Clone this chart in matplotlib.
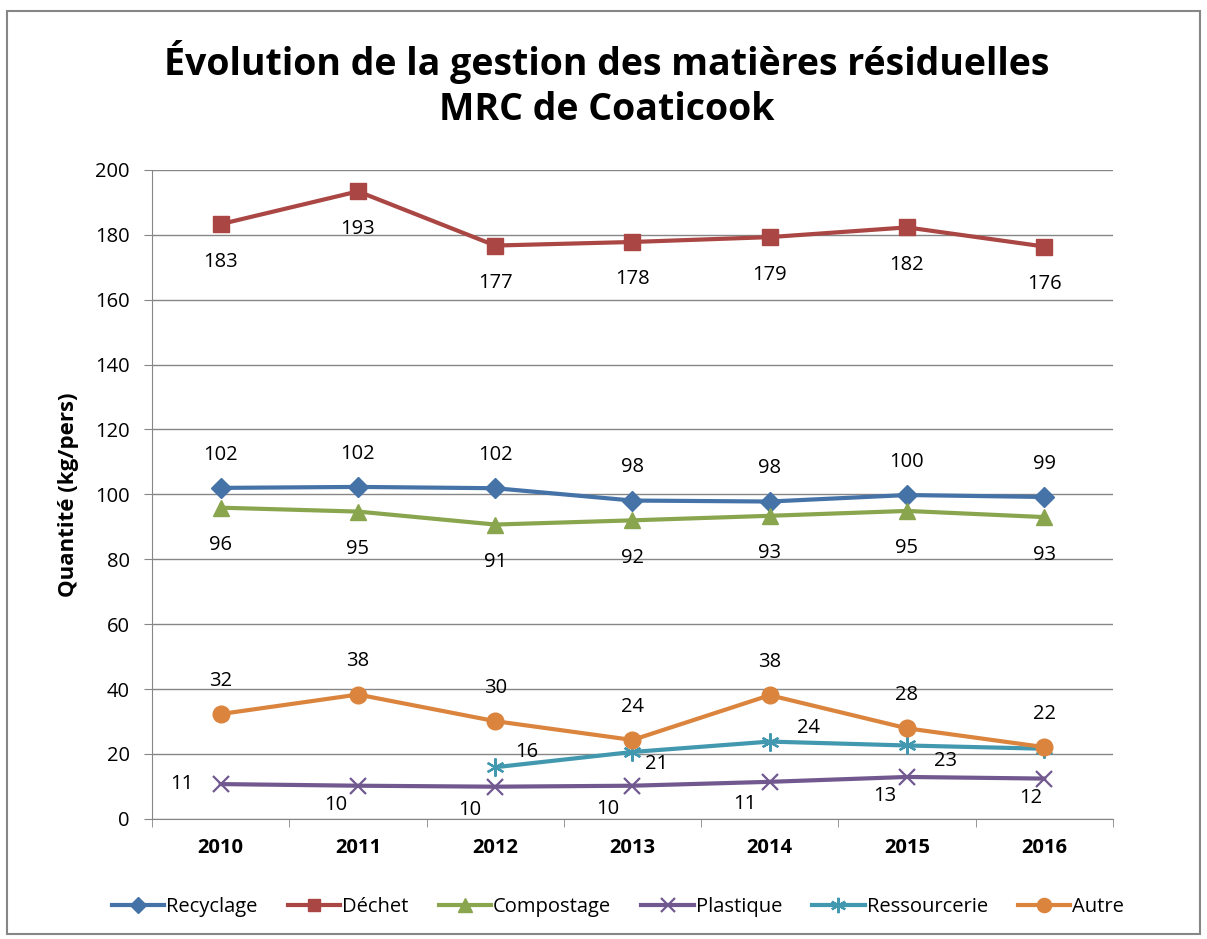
import numpy as np
import matplotlib.pyplot as plt
from matplotlib.patches import Rectangle

plt.rcParams['font.family'] = ['Open Sans', 'DejaVu Sans']

years = ['2010', '2011', '2012', '2013', '2014', '2015', '2016']
recyclage = [102, 102.3, 101.9, 98.1, 97.8, 99.8, 99.2]
dechet = [183.3, 193.4, 176.7, 177.8, 179.3, 182.3, 176.4]
compostage = [95.9, 94.7, 90.7, 92.0, 93.4, 94.9, 93.0]
plastique = [10.7, 10.2, 9.9, 10.2, 11.4, 12.9, 12.4]
ressourcerie = [np.nan, np.nan, 15.9, 20.6, 23.8, 22.6, 21.6]
autre = [32.3, 38.3, 30.1, 24.3, 38.1, 27.9, 22.1]

# name, values, color, marker, size, label offset (pts)
series = [
    ('Recyclage', recyclage, '#4572A7', 'D', 10, [(0, 24)] * 7),
    ('Déchet', dechet, '#AA4643', 's', 11, [(0, -27)] * 7),
    ('Compostage', compostage, '#89A54E', '^', 12, [(0, -27)] * 7),
    ('Plastique', plastique, '#71588F', 'x', 12,
     [(-28, 0), (-16, -14), (-18, -17), (-18, -17), (-18, -16), (-16, -14), (-10, -14)]),
    ('Ressourcerie', ressourcerie, '#4198AF', (6, 2, 0), 13,
     [(0, 0), (0, 0), (23, 11), (17, -9), (28, 10), (28, -11), (0, 0)]),
    ('Autre', autre, '#DB843D', 'o', 12, [(0, 24)] * 7),
]
show_label = {'Ressourcerie': [False, False, True, True, True, True, False]}

fig = plt.figure(figsize=(12.07, 9.39), dpi=100)
ax = fig.add_axes([0.126, 0.128, 0.796, 0.691])

x = np.arange(len(years))
for name, vals, color, marker, ms, offs in series:
    mew = 1.6 if marker in ('x', (6, 2, 0)) else 1
    ax.plot(x, vals, color=color, linewidth=3, marker=marker, markersize=ms,
            markeredgewidth=mew, markeredgecolor=color, label=name, zorder=3)
    flags = show_label.get(name, [True] * 7)
    for i, v in enumerate(vals):
        if np.isnan(v) or not flags[i]:
            continue
        ax.annotate('%d' % round(v), (x[i], v), xytext=offs[i], textcoords='offset points',
                    ha='center', va='center', fontsize=14.5, color='black', zorder=4)

ax.set_xlim(-0.5, len(years) - 0.5)
ax.set_ylim(0, 200)
ax.set_yticks(np.arange(0, 201, 20))
ax.set_xticks(x)
ax.set_xticklabels(years, fontweight='bold', fontsize=14.5)
ax.set_xticks(np.arange(-0.5, len(years)), minor=True)
ax.tick_params(axis='x', which='major', length=0, pad=14)
ax.tick_params(axis='x', which='minor', length=6, color='#868686', direction='out')
ax.tick_params(axis='y', length=6, color='#868686', labelsize=14.5, pad=10)
ax.grid(axis='y', color='#868686', linewidth=1)
ax.set_axisbelow(True)
for s in ['top', 'right']:
    ax.spines[s].set_visible(False)
for s in ['left', 'bottom']:
    ax.spines[s].set_color('#868686')
ax.set_ylabel('Quantité (kg/pers)', fontweight='bold', fontsize=16, labelpad=12)

fig.text(0.503, 0.91, 'Évolution de la gestion des matières résiduelles\nMRC de Coaticook',
         ha='center', va='center', fontsize=27, fontweight='bold', linespacing=1.25)

fig.legend(loc='center', bbox_to_anchor=(0.512, 0.034), ncol=6, frameon=False,
           fontsize=14.5, handlelength=2.6, columnspacing=1.5, handletextpad=0.1,
           markerscale=0.85)

fig.patches.append(Rectangle((0.006, 0.005), 0.988, 0.983, transform=fig.transFigure,
                             fill=False, edgecolor='#868686', linewidth=1.5))

fig.savefig('out.png', dpi=100)
